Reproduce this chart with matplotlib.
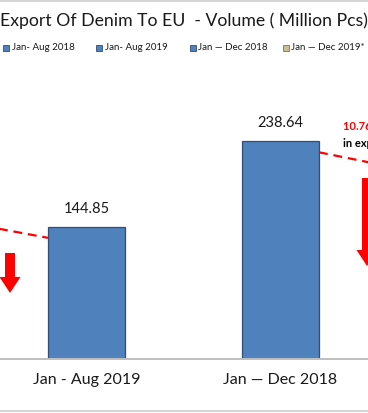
"""Export of denim to EU - volume bar chart (cropped view)."""

import matplotlib
matplotlib.use("Agg")
import matplotlib.pyplot as plt
from matplotlib.patches import FancyArrow, Rectangle
from matplotlib.lines import Line2D

plt.rcParams["font.family"] = ["Lato", "DejaVu Sans"]

periods = ["Jan - Aug 2018", "Jan - Aug 2019", "Jan \u2014 Dec 2018", "Jan \u2014 Dec 2019*"]
legend_labels = ["Jan- Aug 2018", "Jan- Aug 2019", "Jan \u2014 Dec 2018", "Jan \u2014 Dec 2019*"]
volumes = [168.6, 144.85, 238.64, 212.96]
decrease_note = ["10.76% Decrease", "in export"]

COLORS = {
    "bar": "#4F81BD",
    "edge": "#2F4E78",
    "tan": "#C9BF94",
    "tan_edge": "#7A7452",
    "red": "#FF0000",
    "grid": "#BFBFBF",
    "frame": "#D4D4D4",
    "ink": "#1A1A1A",
}

W, H = 368, 413
fig = plt.figure(figsize=(W / 100, H / 100), dpi=100)

base_px, top_px = 359, 70
ax = fig.add_axes([0, (H - base_px) / H, 1, (base_px - top_px) / H])
px_per_unit = 0.912
spacing = 194.0
x_left = 1 - 86.5 / spacing

x = list(range(len(periods)))
width = 77 / spacing
bars = ax.bar(x, volumes, width, color=COLORS["bar"], edgecolor=COLORS["edge"],
              linewidth=0.9, zorder=2)

for xi, v in zip(x, volumes):
    ax.text(xi, v + 11 / px_per_unit, f"{v:.2f}", ha="center", va="bottom",
            fontsize=10.5, color=COLORS["ink"])

# dashed trend lines between pairs
offset = 12
for a, b in [(0, 1), (2, 3)]:
    ax.plot([x[a] + width / 2, x[b] - width / 2],
            [volumes[a] - offset, volumes[b] - offset],
            color=COLORS["red"], linestyle=(0, (4, 2.6)), linewidth=1.6, zorder=3)

# red down arrows
for ax_x, top, tip in [(0.6057, 116.2, 72.4), (2.4459, 198.5, 102.0)]:
    ax.add_patch(FancyArrow(ax_x, top, 0, tip - top, width=10 / spacing,
                            head_width=21 / spacing, head_length=17.5,
                            length_includes_head=True, color=COLORS["red"],
                            linewidth=0, zorder=3))

ax.text(2.322, 254.4, decrease_note[0], color=COLORS["red"], fontsize=8,
        fontweight="bold", ha="left", va="center")
ax.text(2.322, 236.8, decrease_note[1], color="black", fontsize=8,
        fontweight="bold", ha="left", va="center")

ax.set_xticks(x, periods, fontsize=11.5, color=COLORS["ink"])
ax.tick_params(axis="x", length=0, pad=10)
ax.set_yticks([])
ax.set_xlim(x_left, x_left + W / spacing)
ax.set_ylim(0, (base_px - top_px) / px_per_unit)
for side in ["top", "right", "left"]:
    ax.spines[side].set_visible(False)
ax.spines["bottom"].set_color(COLORS["grid"])
ax.spines["bottom"].set_linewidth(1.4)
ax.patch.set_alpha(0)

# title
fig.text(0.5, 1 - 21 / H, "Export Of Denim To EU  - Volume ( Million Pcs)",
         ha="center", va="center", fontsize=12.7, color=COLORS["ink"])

# legend drawn by hand
legend_y = 1 - 48 / H
for i, lab in enumerate(legend_labels):
    mx = 3 + i * 93.3
    face = COLORS["tan"] if i == 3 else COLORS["bar"]
    edge = COLORS["tan_edge"] if i == 3 else COLORS["edge"]
    fig.add_artist(Rectangle((mx / W, legend_y - 3 / H), 6 / W, 6 / H,
                             facecolor=face, edgecolor=edge, linewidth=0.6,
                             transform=fig.transFigure))
    fig.text((mx + 8.5) / W, legend_y, lab, ha="left", va="center",
             fontsize=7, color=COLORS["ink"])

# chart frame lines
for py in (1, 411):
    fig.add_artist(Line2D([0, 1], [1 - py / H, 1 - py / H], color=COLORS["frame"],
                          linewidth=1.4, transform=fig.transFigure))

fig.savefig("out.png", dpi=100)
